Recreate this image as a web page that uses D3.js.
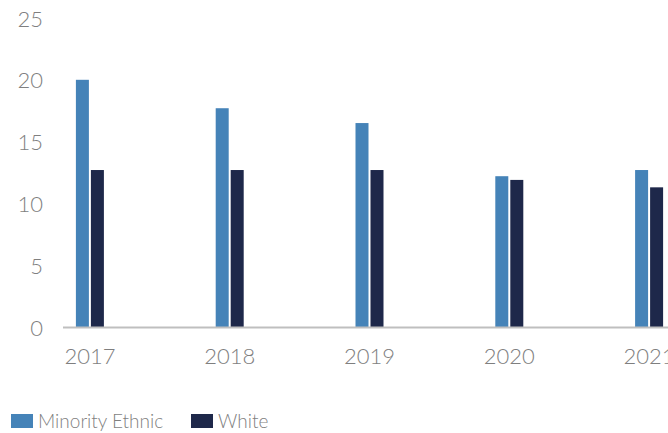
<!DOCTYPE html>
<html>
<head>
<meta charset="utf-8">
<script src="https://cdn.jsdelivr.net/npm/d3@7"></script>
<style>
  body { margin: 0; background: #fff; }
  text { font-family: Lato, "Open Sans", sans-serif; font-weight: 300; fill: #7f7f7f; }
</style>
</head>
<body>
<div id="chart"></div>
<script>
// datos
const years = ['2017', '2018', '2019', '2020', '2021'];
const series = ['Minority Ethnic', 'White'];
const minorityValues = [20.0, 17.7, 16.5, 12.2, 12.7];
const whiteValues = [12.7, 12.7, 12.7, 11.9, 11.3];
const yTicks = [0, 5, 10, 15, 20, 25];
const colors = ['#4583b8', '#1e284a'];

const width = 668;
const height = 433;

const svg = d3.select('#chart')
  .append('svg')
  .attr('width', width)
  .attr('height', height);

// escalas
const x0 = d3.scaleBand()
  .domain(years)
  .range([20, 719])
  .padding(0);

const x1 = d3.scaleBand()
  .domain(series)
  .range([0, 28])
  .paddingInner(2 / 15);

const y = d3.scaleLinear()
  .domain([0, 25])
  .range([327, 18]);

const rows = years.map((yr, i) => ({
  year: yr,
  values: [
    { key: series[0], value: minorityValues[i] },
    { key: series[1], value: whiteValues[i] }
  ]
}));

// barras
const groups = svg.selectAll('.year')
  .data(rows)
  .enter()
  .append('g')
  .attr('class', 'year')
  .attr('transform', d => `translate(${x0(d.year) + x0.bandwidth() / 2 - 14}, 0)`);

groups.selectAll('rect')
  .data(d => d.values)
  .enter()
  .append('rect')
  .attr('x', d => x1(d.key))
  .attr('width', x1.bandwidth())
  .attr('y', d => y(d.value))
  .attr('height', d => y(0) - y(d.value))
  .attr('fill', (d, i) => colors[i]);

// eje y (solo etiquetas)
const yAxis = d3.axisLeft(y)
  .tickValues(yTicks)
  .tickSize(0)
  .tickPadding(0);

svg.append('g')
  .attr('transform', 'translate(43, 1)')
  .call(yAxis)
  .call(g => g.select('.domain').remove())
  .selectAll('text')
  .style('font-size', '22px')
  .attr('fill', '#7f7f7f');

// eje x
svg.append('line')
  .attr('x1', 63)
  .attr('x2', width)
  .attr('y1', y(0) + 0.5)
  .attr('y2', y(0) + 0.5)
  .attr('stroke', '#bfbfbf')
  .attr('stroke-width', 2);

const xAxis = d3.axisBottom(x0).tickSize(0).tickPadding(0);

svg.append('g')
  .attr('transform', 'translate(0, 348)')
  .call(xAxis)
  .call(g => g.select('.domain').remove())
  .selectAll('text')
  .style('font-size', '22px')
  .attr('fill', '#7f7f7f');

// leyenda
const legend = svg.append('g')
  .attr('class', 'legend')
  .attr('transform', 'translate(11, 414)');

const legendX = [0, 180];
series.forEach((s, i) => {
  const item = legend.append('g').attr('transform', `translate(${legendX[i]}, 0)`);
  item.append('rect')
    .attr('width', 22)
    .attr('height', 14)
    .attr('fill', colors[i]);
  item.append('text')
    .attr('x', 27)
    .attr('y', 14)
    .style('font-size', '19px')
    .text(s);
});
</script>
</body>
</html>
